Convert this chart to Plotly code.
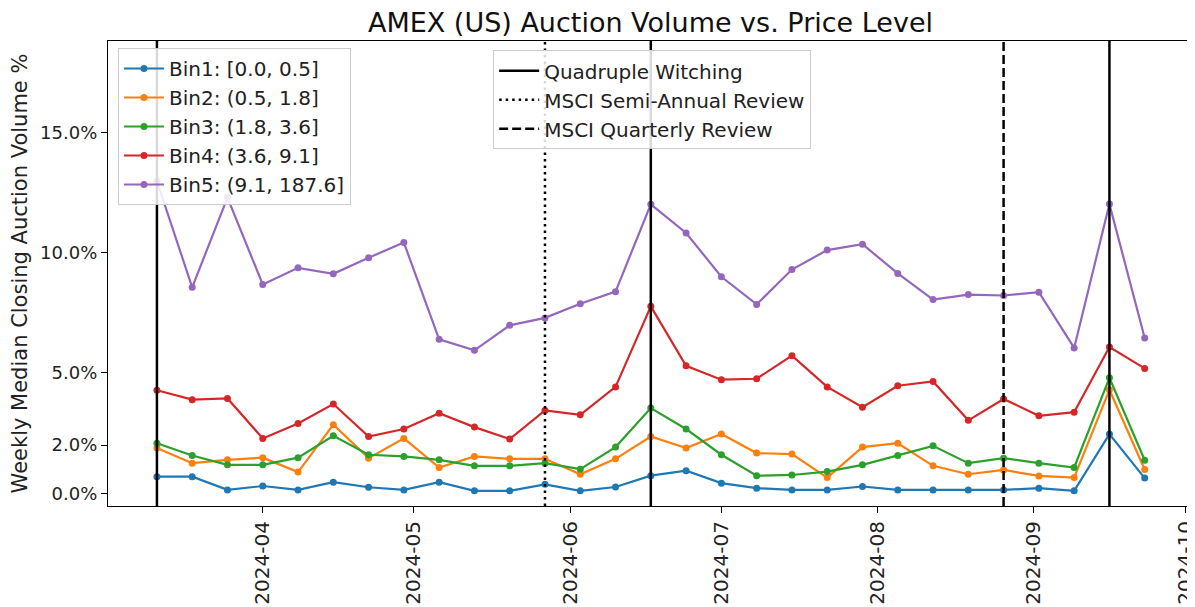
import plotly.graph_objects as go

# ---- data ----
dates = ["2024-03-11", "2024-03-18", "2024-03-25", "2024-04-01", "2024-04-08", "2024-04-15",
         "2024-04-22", "2024-04-29", "2024-05-06", "2024-05-13", "2024-05-20", "2024-05-27",
         "2024-06-03", "2024-06-10", "2024-06-17", "2024-06-24", "2024-07-01", "2024-07-08",
         "2024-07-15", "2024-07-22", "2024-07-29", "2024-08-05", "2024-08-12", "2024-08-19",
         "2024-08-26", "2024-09-02", "2024-09-09", "2024-09-16", "2024-09-23"]

bin1 = [0.69, 0.69, 0.14, 0.30, 0.14, 0.46, 0.25, 0.14, 0.46, 0.10, 0.10, 0.37, 0.10, 0.26, 0.73,
        0.94, 0.42, 0.21, 0.14, 0.14, 0.28, 0.14, 0.14, 0.14, 0.14, 0.21, 0.10, 2.46, 0.63]
bin2 = [1.88, 1.25, 1.39, 1.48, 0.88, 2.85, 1.46, 2.28, 1.07, 1.53, 1.43, 1.43, 0.79, 1.43, 2.36,
        1.88, 2.46, 1.67, 1.63, 0.65, 1.92, 2.08, 1.14, 0.79, 0.97, 0.72, 0.65, 4.30, 0.99]
bin3 = [2.08, 1.57, 1.18, 1.18, 1.48, 2.39, 1.60, 1.53, 1.39, 1.14, 1.14, 1.25, 1.00, 1.92, 3.54,
        2.67, 1.60, 0.73, 0.76, 0.90, 1.18, 1.57, 1.97, 1.25, 1.46, 1.25, 1.07, 4.80, 1.37]
bin4 = [4.28, 3.89, 3.94, 2.28, 2.90, 3.71, 2.36, 2.67, 3.33, 2.75, 2.25, 3.44, 3.26, 4.42, 7.77,
        5.30, 4.72, 4.76, 5.72, 4.42, 3.58, 4.47, 4.65, 3.03, 3.92, 3.22, 3.37, 6.08, 5.19]
bin5 = [12.97, 8.56, 12.29, 8.68, 9.37, 9.12, 9.79, 10.42, 6.40, 5.94, 6.98, 7.29, 7.88, 8.38, 12.01,
        10.82, 9.00, 7.85, 9.30, 10.11, 10.35, 9.14, 8.05, 8.26, 8.22, 8.36, 6.04, 12.02, 6.45]

series_names = ["Bin1: [0.0, 0.5]", "Bin2: (0.5, 1.8]", "Bin3: (1.8, 3.6]",
                "Bin4: (3.6, 9.1]", "Bin5: (9.1, 187.6]"]
series_values = [bin1, bin2, bin3, bin4, bin5]
colors = ["#1f77b4", "#ff7f0e", "#2ca02c", "#d62728", "#9467bd"]

quad_witching = ["2024-03-11", "2024-06-17", "2024-09-16"]
msci_semi_annual = ["2024-05-27"]
msci_quarterly = ["2024-08-26"]

y_tickvals = [0, 2, 5, 10, 15]
y_ticktext = ["0.0%", "2.0%", "5.0%", "10.0%", "15.0%"]
x_tickvals = ["2024-04-01", "2024-05-01", "2024-06-01", "2024-07-01",
              "2024-08-01", "2024-09-01", "2024-10-01"]

FONT = "DejaVu Sans"
# the page body has an 8px margin, so the figure is sized to fill the rest of the window
W, H = 1187, 599
L, R, T, B = 100, 2, 33, 101

fig = go.Figure()
for i, (name, vals, col) in enumerate(zip(series_names, series_values, colors)):
    fig.add_trace(go.Scatter(
        x=dates, y=vals, mode="lines+markers", name=name,
        line=dict(color=col, width=2.2), marker=dict(color=col, size=7),
        legend="legend", legendgroup=f"g{i}",
    ))

events = [
    (quad_witching, "Quadruple Witching", "solid", 1),
    (msci_semi_annual, "MSCI Semi-Annual Review", "2.5px,4px", 2),
    (msci_quarterly, "MSCI Quarterly Review", "9px,4px", 3),
]
for dlist, name, dash, rank in events:
    for j, d in enumerate(dlist):
        fig.add_shape(
            type="line", x0=d, x1=d, y0=0, y1=1, xref="x", yref="y domain",
            line=dict(color="black", width=2.5, dash=dash),
            showlegend=(j == 0), name=name, legend="legend2",
            legendgroup=f"e{rank}", legendrank=rank, layer="above",
        )

fig.update_layout(
    width=W, height=H,
    margin=dict(l=L, r=R, t=T, b=B),
    paper_bgcolor="white", plot_bgcolor="white",
    font=dict(family=FONT, size=20, color="#222222"),
    title=dict(text="AMEX (US) Auction Volume vs. Price Level", x=(L + W - R) / 2 / W,
               xanchor="center", y=1 - 15 / H, yanchor="middle",
               font=dict(family=FONT, size=27, color="#111111")),
    legend=dict(x=0.0092, y=0.985, xanchor="left", yanchor="top",
                bgcolor="rgba(255,255,255,0.85)", bordercolor="#cccccc", borderwidth=1,
                font=dict(family=FONT, size=20), itemwidth=40, tracegroupgap=0,
                traceorder="grouped"),
    legend2=dict(x=0.355, y=0.98, xanchor="left", yanchor="top",
                 bgcolor="rgba(255,255,255,0.85)", bordercolor="#cccccc", borderwidth=1,
                 font=dict(family=FONT, size=20), itemwidth=40, tracegroupgap=0,
                 traceorder="grouped"),
    showlegend=True,
)

fig.update_xaxes(
    range=["2024-03-01 07:00", "2024-10-02 14:00"],
    tickvals=x_tickvals, tickformat="%Y-%m", tickangle=-90, automargin=False,
    ticklabeloverflow="allow",
    showline=True, mirror=True, linecolor="black", linewidth=1.2,
    ticks="outside", ticklen=6, tickcolor="black", tickwidth=1.2,
    showgrid=False, zeroline=False, tickfont=dict(family=FONT, size=20, color="#222222"),
)
fig.update_yaxes(
    range=[-0.53, 18.8], automargin=False,
    tickvals=y_tickvals, ticktext=y_ticktext,
    showline=True, mirror=True, linecolor="black", linewidth=1.2,
    ticks="outside", ticklen=6, tickcolor="black", tickwidth=1.2,
    showgrid=False, zeroline=False, tickfont=dict(family=FONT, size=18, color="#222222"),
    title=dict(text="Weekly Median Closing Auction Volume %", standoff=10,
               font=dict(family=FONT, size=21, color="#222222")),
)

fig.write_html("out.html")
